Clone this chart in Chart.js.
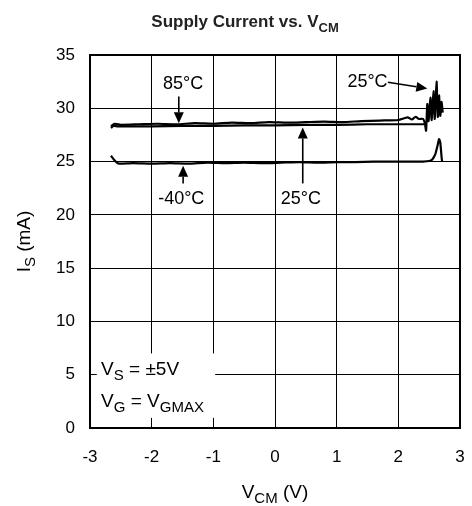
<!DOCTYPE html>
<html>
<head>
<meta charset="utf-8">
<script src="https://cdn.jsdelivr.net/npm/chart.js@4"></script>
<style>
  body { margin: 0; background: #fff; }
  canvas { display: block; }
</style>
</head>
<body>
<canvas id="grafico" width="472" height="506"></canvas>
<script>
// eixos
const xTicks = [-3, -2, -1, 0, 1, 2, 3];
const yTicks = [0, 5, 10, 15, 20, 25, 30, 35];

// 85°C
const v85 = [-2.66, -2.62, -2.55, -2.3, -2.0, -1.5, -1.0, -0.5, 0, 0.5, 1.0, 1.5, 2.0, 2.3, 2.45];
const i85 = [28.15, 28.35, 28.3, 28.3, 28.3, 28.35, 28.35, 28.4, 28.4, 28.45, 28.45, 28.5, 28.5, 28.5, 28.5];

// 25°C
const v25 = [-2.66, -2.6, -2.5, -2.2, -1.9, -1.6, -1.3, -1.0, -0.7, -0.4, -0.1, 0.2, 0.5, 0.8, 1.1, 1.4, 1.7, 2.0,
  2.15, 2.22, 2.28, 2.33, 2.4, 2.43, 2.45, 2.47, 2.49, 2.52, 2.54, 2.57, 2.59, 2.62, 2.64, 2.66, 2.68, 2.70, 2.72];
const i25 = [28.3, 28.55, 28.45, 28.5, 28.55, 28.5, 28.6, 28.55, 28.65, 28.6, 28.7, 28.65, 28.7, 28.75, 28.7, 28.8, 28.85, 28.9,
  29.15, 28.95, 29.2, 29.0, 29.0, 28.6, 27.9, 30.4, 28.8, 31.0, 28.9, 31.6, 29.0, 32.5, 29.2, 31.2, 29.3, 30.6, 29.6];

// -40°C
const v40 = [-2.66, -2.6, -2.55, -2.5, -2.3, -2.0, -1.7, -1.4, -1.1, -0.8, -0.5, -0.2, 0.1, 0.4, 0.7, 1.0, 1.3, 1.6, 1.9, 2.2,
  2.4, 2.5, 2.55, 2.6, 2.64, 2.66, 2.68, 2.7, 2.71];
const i40 = [25.55, 25.1, 24.85, 24.8, 24.85, 24.8, 24.85, 24.8, 24.9, 24.85, 24.9, 24.85, 24.9, 24.95, 24.9, 24.95, 24.95, 25.0, 25.0, 25.0,
  25.0, 25.05, 25.2, 25.7, 26.6, 27.1, 26.8, 25.5, 25.0];

const FONTE = '"Liberation Sans", Arial, sans-serif';

function pontos(xs, ys) {
  return xs.map((x, i) => ({ x: x, y: ys[i] }));
}

function serie(xs, ys) {
  return {
    data: pontos(xs, ys),
    borderColor: '#000',
    borderWidth: 2.2,
    pointRadius: 0,
    tension: 0.2,
    fill: false
  };
}

// texto com subscrito: partes = [[texto, sub?], ...]
function larguraPartes(ctx, partes, tam, peso) {
  let w = 0;
  for (const [t, sub] of partes) {
    ctx.font = `${peso} ${sub ? Math.round(tam * 0.78) : tam}px ${FONTE}`;
    w += ctx.measureText(t).width;
  }
  return w;
}

function textoPartes(ctx, partes, x0, base, tam, peso, esquerda) {
  let x = esquerda ? x0 : x0 - larguraPartes(ctx, partes, tam, peso) / 2;
  ctx.textAlign = 'left';
  ctx.textBaseline = 'alphabetic';
  for (const [t, sub] of partes) {
    ctx.font = `${peso} ${sub ? Math.round(tam * 0.78) : tam}px ${FONTE}`;
    ctx.fillText(t, x, sub ? base + tam * 0.28 : base);
    x += ctx.measureText(t).width;
  }
}

function seta(ctx, x1, y1, x2, y2) {
  const ang = Math.atan2(y2 - y1, x2 - x1);
  const L = 11, W = 5;
  ctx.beginPath();
  ctx.moveTo(x1, y1);
  ctx.lineTo(x2 - L * Math.cos(ang), y2 - L * Math.sin(ang));
  ctx.lineWidth = 1.6;
  ctx.stroke();
  ctx.beginPath();
  ctx.moveTo(x2, y2);
  ctx.lineTo(x2 - L * Math.cos(ang) + W * Math.sin(ang), y2 - L * Math.sin(ang) - W * Math.cos(ang));
  ctx.lineTo(x2 - L * Math.cos(ang) - W * Math.sin(ang), y2 - L * Math.sin(ang) + W * Math.cos(ang));
  ctx.closePath();
  ctx.fill();
}

const anotacoes = {
  id: 'anotacoes',
  beforeDatasetsDraw(chart) {
    const { ctx, chartArea: a } = chart;
    ctx.save();
    ctx.strokeStyle = '#000';
    ctx.lineWidth = 2;
    ctx.strokeRect(a.left, a.top, a.right - a.left, a.bottom - a.top);
    ctx.restore();
  },
  afterDraw(chart) {
    const { ctx, chartArea: a } = chart;
    const xs = chart.scales.x, ys = chart.scales.y;
    const px = v => xs.getPixelForValue(v);
    const py = v => ys.getPixelForValue(v);
    ctx.save();
    ctx.fillStyle = '#000';
    ctx.strokeStyle = '#000';

    // titulo
    ctx.fillStyle = '#222';
    textoPartes(ctx, [['Supply Current vs. V', false], ['CM', true]], 245, 27, 17, 'bold');
    ctx.fillStyle = '#000';

    // eixo x
    textoPartes(ctx, [['V', false], ['CM', true], [' (V)', false]], (a.left + a.right) / 2, 498, 19, 'normal');

    // eixo y
    ctx.save();
    ctx.translate(30, (a.top + a.bottom) / 2);
    ctx.rotate(-Math.PI / 2);
    textoPartes(ctx, [['I', false], ['S', true], [' (mA)', false]], 0, 0, 19, 'normal');
    ctx.restore();

    // caixa de condicoes
    ctx.fillStyle = '#fff';
    ctx.fillRect(px(-2.89), py(7.0), px(-0.97) - px(-2.89), py(0.95) - py(7.0));
    ctx.fillStyle = '#000';
    textoPartes(ctx, [['V', false], ['S', true], [' = ±5V', false]], px(-2.82), py(5.0), 19, 'normal', true);
    textoPartes(ctx, [['V', false], ['G', true], [' = V', false], ['GMAX', true]], px(-2.82), py(2.0), 19, 'normal', true);

    // rotulos de temperatura
    ctx.font = `18px ${FONTE}`;
    ctx.textAlign = 'center';
    ctx.textBaseline = 'middle';
    ctx.fillText('85°C', px(-1.49), py(32.3));
    seta(ctx, px(-1.56), py(31.1), px(-1.56), py(28.6));

    ctx.fillText('25°C', px(1.5), py(32.5));
    seta(ctx, px(1.83), py(32.45), px(2.47), py(31.85));

    ctx.fillText('-40°C', px(-1.52), py(21.5));
    seta(ctx, px(-1.49), py(22.95), px(-1.49), py(24.6));

    ctx.fillText('25°C', px(0.42), py(21.5));
    seta(ctx, px(0.45), py(22.95), px(0.45), py(28.2));
    ctx.restore();
  }
};

new Chart(document.getElementById('grafico').getContext('2d'), {
  type: 'scatter',
  data: {
    datasets: [
      serie(v85, i85),
      serie(v25, i25),
      serie(v40, i40)
    ]
  },
  options: {
    responsive: false,
    animation: false,
    showLine: true,
    layout: { padding: { top: 55, right: 12, left: 0, bottom: 0 } },
    plugins: { legend: { display: false }, tooltip: { enabled: false }, title: { display: false } },
    scales: {
      x: {
        type: 'linear',
        min: -3,
        max: 3,
        afterBuildTicks: s => { s.ticks = xTicks.map(v => ({ value: v })); },
        afterFit: s => { s.height = 78; s.paddingLeft = 0; s.paddingRight = 0; },
        grid: { color: '#000', lineWidth: 1, drawTicks: false },
        border: { display: false },
        ticks: { color: '#000', font: { size: 17, family: FONTE }, padding: 19, maxRotation: 0 }
      },
      y: {
        type: 'linear',
        min: 0,
        max: 35,
        afterBuildTicks: s => { s.ticks = yTicks.map(v => ({ value: v })); },
        afterFit: s => { s.width = 90; s.paddingTop = 0; s.paddingBottom = 0; },
        grid: { color: '#000', lineWidth: 1, drawTicks: false },
        border: { display: false },
        ticks: { color: '#000', font: { size: 17, family: FONTE }, padding: 15 }
      }
    }
  },
  plugins: [anotacoes]
});
</script>
</body>
</html>
